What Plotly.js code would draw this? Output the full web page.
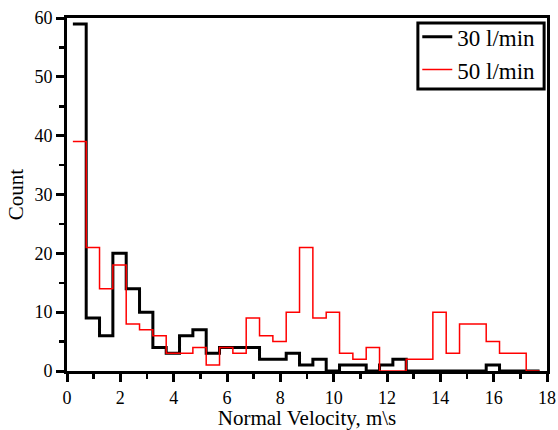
<!DOCTYPE html>
<html>
<head>
<meta charset="utf-8">
<script src="https://cdn.plot.ly/plotly-3.0.1.min.js"></script>
<style>
  html, body { margin: 0; padding: 0; background: #ffffff; }
  #chart { width: 558px; height: 430px; }
</style>
</head>
<body>
<div id="chart"></div>
<script>
// Bin centres (m\s) of the normal-velocity histogram
const binCenters = [0.47, 0.97, 1.47, 1.97, 2.47, 2.97, 3.47, 3.97, 4.47, 4.97,
                    5.47, 5.97, 6.47, 6.97, 7.47, 7.97, 8.47, 8.97, 9.47, 9.97,
                    10.47, 10.97, 11.47, 11.97, 12.47, 12.97, 13.47, 13.97, 14.47, 14.97,
                    15.47, 15.97, 16.47, 16.97, 17.47];
const binWidth = 0.5;

// Counts for each flow rate
const count30 = [59, 9, 6, 20, 14, 10, 4, 3, 6, 7,
                 3, 4, 4, 4, 2, 2, 3, 1, 2, 0,
                 1, 1, 0, 1, 2, 0, 0, 0, 0, 0,
                 0, 1, 0, 0, 0];
const count50 = [39, 21, 14, 18, 8, 7, 6, 3, 3, 4,
                 1, 4, 3, 9, 6, 5, 10, 21, 9, 10,
                 3, 2, 4, 0, 0, 2, 2, 10, 3, 8,
                 8, 5, 3, 3, 0];

const seriesNames = ['30 l/min', '50 l/min'];
const xTickVals = [0, 2, 4, 6, 8, 10, 12, 14, 16, 18];
const yTickVals = [0, 10, 20, 30, 40, 50, 60];

// Build "step-centre" outline from bin centres
function stepTrace(centers, counts) {
  const xs = centers.map(c => c - binWidth / 2);
  xs.push(centers[centers.length - 1] + binWidth / 2);
  const ys = counts.slice();
  ys.push(counts[counts.length - 1]);
  return { xs, ys };
}

const s30 = stepTrace(binCenters, count30);
const s50 = stepTrace(binCenters, count50);

const FONT = '"Liberation Serif", "Times New Roman", Times, serif';

const traces = [
  {
    x: s30.xs, y: s30.ys, name: seriesNames[0], type: 'scatter', mode: 'lines',
    line: { shape: 'hv', color: '#000000', width: 3 },
    cliponaxis: false
  },
  {
    x: s50.xs, y: s50.ys, name: seriesNames[1], type: 'scatter', mode: 'lines',
    line: { shape: 'hv', color: '#ff0000', width: 1.5 },
    cliponaxis: false
  }
];

const layout = {
  width: 558, height: 430,
  margin: { l: 67, r: 11, t: 18, b: 59, pad: 0 },
  paper_bgcolor: '#ffffff', plot_bgcolor: '#ffffff',
  font: { family: FONT, color: '#000000', size: 18 },
  showlegend: true,
  legend: {
    x: 0.986, xanchor: 'right', y: 1.008, yanchor: 'top',
    bgcolor: 'rgba(0,0,0,0)', borderwidth: 0,
    font: { family: FONT, size: 23, color: '#000000' },
    traceorder: 'normal'
  },
  shapes: [
    { type: 'rect', xref: 'paper', yref: 'paper',
      x0: 0.731, x1: 0.994, y0: 0.799, y1: 0.986,
      line: { color: '#000000', width: 3 }, fillcolor: '#ffffff', layer: 'above' }
  ],
  xaxis: {
    range: [0, 18], tickvals: xTickVals, ticktext: xTickVals.map(String),
    showgrid: false, zeroline: false,
    showline: true, linecolor: '#000000', linewidth: 3, mirror: true,
    ticks: 'outside', ticklen: 8, tickwidth: 3, tickcolor: '#000000',
    minor: { dtick: 1, ticks: 'outside', ticklen: 5, tickwidth: 2.5, tickcolor: '#000000', showgrid: false },
    tickfont: { family: FONT, size: 18, color: '#000000' },
    title: { text: 'Normal Velocity, m\\s', font: { family: FONT, size: 21, color: '#000000' }, standoff: 6 },
    layer: 'below traces', automargin: false
  },
  yaxis: {
    range: [0, 60], tickvals: yTickVals, ticktext: yTickVals.map(String),
    showgrid: false, zeroline: false,
    showline: true, linecolor: '#000000', linewidth: 3, mirror: true,
    ticks: 'outside', ticklen: 8, tickwidth: 3, tickcolor: '#000000',
    minor: { dtick: 5, ticks: 'outside', ticklen: 5, tickwidth: 2.5, tickcolor: '#000000', showgrid: false },
    tickfont: { family: FONT, size: 18, color: '#000000' },
    title: { text: 'Count', font: { family: FONT, size: 21, color: '#000000' }, standoff: 6 },
    layer: 'below traces', automargin: false
  }
};

Plotly.newPlot('chart', traces, layout, { displayModeBar: false, staticPlot: true });
</script>
</body>
</html>
